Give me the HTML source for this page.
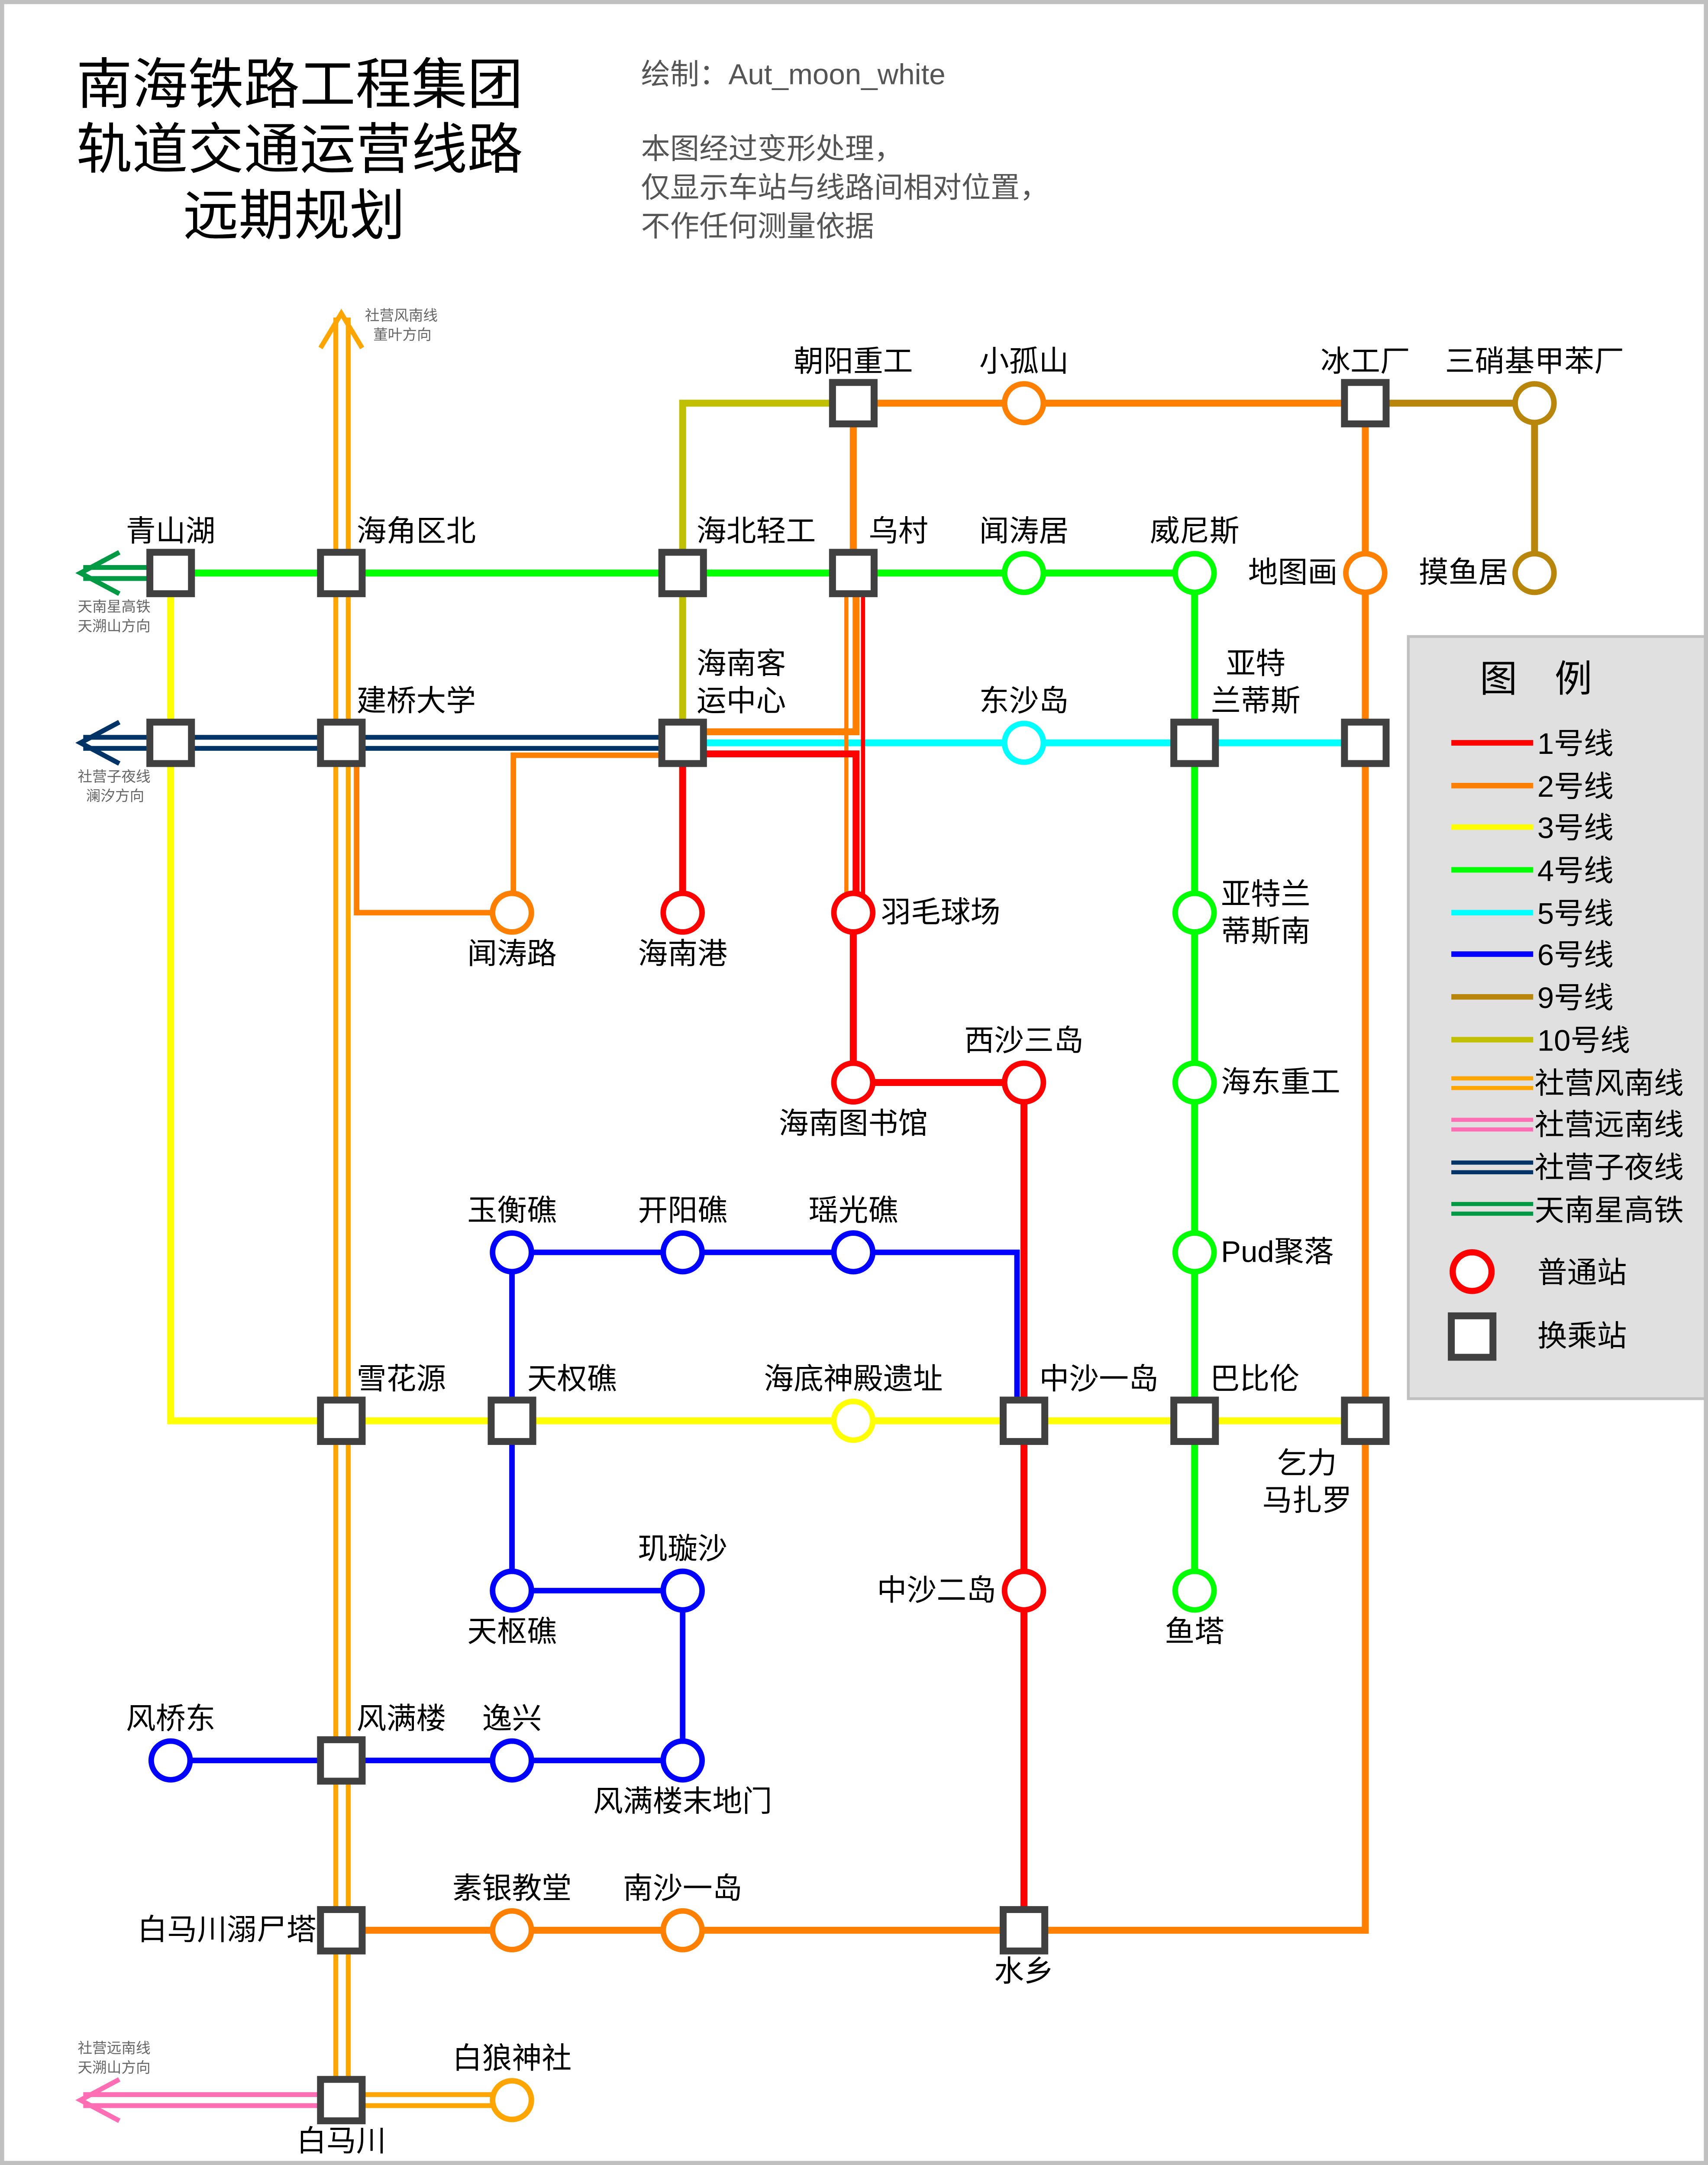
<!DOCTYPE html>
<html><head><meta charset="utf-8"><style>
html,body{margin:0;padding:0;background:#fff;width:100%;height:100%;overflow:hidden}
svg{display:block;position:fixed;left:0;top:0;width:100vw;height:100vh}
text{font-family:"Liberation Sans","Noto Sans CJK SC",sans-serif;fill:#000}
</style></head><body>
<svg viewBox="0 0 1231 1568" preserveAspectRatio="none" xmlns="http://www.w3.org/2000/svg">
<rect x="1.5" y="1.5" width="1228" height="1565" fill="#fff" stroke="#c0c0c0" stroke-width="3"/>
<g font-size="40">
<text x="216" y="75" text-anchor="middle" textLength="322" lengthAdjust="spacingAndGlyphs">南海铁路工程集团</text>
<text x="216" y="122" text-anchor="middle" textLength="322" lengthAdjust="spacingAndGlyphs">轨道交通运营线路</text>
<text x="212" y="170" text-anchor="middle" textLength="160" lengthAdjust="spacingAndGlyphs">远期规划</text>
</g>
<g font-size="21" style="fill:#555">
<text x="462" y="61" style="fill:#555">绘制：Aut_moon_white</text>
<text x="462" y="115" style="fill:#555">本图经过变形处理，</text>
<text x="462" y="143" style="fill:#555">仅显示车站与线路间相对位置，</text>
<text x="462" y="171" style="fill:#555">不作任何测量依据</text>
</g>
<g fill="none" stroke-linejoin="miter">
<polyline points="123,415 123,1029 984,1029" stroke="#ffff00" stroke-width="5"/>
<polyline points="123,415 861,415 861,1152" stroke="#00ff00" stroke-width="5"/>
<line x1="492" y1="538" x2="984" y2="538" stroke="#00ffff" stroke-width="5"/>
<polyline points="492,538 492,292 615,292" stroke="#c0c000" stroke-width="5"/>
<polyline points="984,292 1106,292 1106,415" stroke="#b8860b" stroke-width="5"/>
<polyline points="615,415 615,292 984,292 984,1398 246,1398" stroke="#ff8000" stroke-width="5"/>
<polyline points="617,415 617,530 492,530" stroke="#ff8000" stroke-width="5"/>
<line x1="610" y1="420" x2="610" y2="650" stroke="#ff8000" stroke-width="3"/>
<polyline points="492,547 370,547 370,661" stroke="#ff8000" stroke-width="4"/>
<polyline points="257,538 257,661 369,661" stroke="#ff8000" stroke-width="4"/>
<line x1="492" y1="538" x2="492" y2="661" stroke="#ff0000" stroke-width="5"/>
<polyline points="492,546 617,546 617,661" stroke="#ff0000" stroke-width="5"/>
<line x1="622" y1="420" x2="622" y2="650" stroke="#ff0000" stroke-width="3"/>
<polyline points="615,661 615,784 738,784 738,1398" stroke="#ff0000" stroke-width="5"/>
<polyline points="369,907 733,907 733,1029" stroke="#0000ff" stroke-width="4"/>
<polyline points="369,907 369,1152 492,1152 492,1275 123,1275" stroke="#0000ff" stroke-width="4"/>
<g stroke="#009944" stroke-width="3.5">
<line x1="60" y1="411" x2="123" y2="411"/><line x1="60" y1="419" x2="123" y2="419"/>
<polyline points="86,400 58,415 86,430"/>
</g>
<g stroke="#003366" stroke-width="3.5">
<line x1="60" y1="534" x2="492" y2="534"/><line x1="60" y1="542" x2="492" y2="542"/>
<polyline points="86,523 58,538 86,553"/>
</g>
<g stroke="#ff6eb4" stroke-width="3.5">
<line x1="60" y1="1517" x2="246" y2="1517"/><line x1="60" y1="1525" x2="246" y2="1525"/>
<polyline points="86,1506 58,1521 86,1536"/>
</g>
<g stroke="#ffa500" stroke-width="3.5">
<line x1="242" y1="230" x2="242" y2="1521"/><line x1="251" y1="230" x2="251" y2="1521"/>
<line x1="246" y1="1517" x2="369" y2="1517"/><line x1="246" y1="1525" x2="369" y2="1525"/>
<polyline points="231,252 246,227 261,252"/>
</g>
</g>
<g font-size="10.5" style="fill:#666">
<text x="263" y="232" style="fill:#666">社营风南线</text>
<text x="269" y="246" style="fill:#666">董叶方向</text>
<text x="56" y="443" style="fill:#666">天南星高铁</text>
<text x="56" y="457" style="fill:#666">天溯山方向</text>
<text x="56" y="566" style="fill:#666">社营子夜线</text>
<text x="62" y="580" style="fill:#666">澜汐方向</text>
<text x="56" y="1487" style="fill:#666">社营远南线</text>
<text x="56" y="1501" style="fill:#666">天溯山方向</text>
</g>
<g fill="#fff" stroke-width="4">
<circle cx="738" cy="292" r="14" stroke="#ff8000"/>
<circle cx="984" cy="415" r="14" stroke="#ff8000"/>
<circle cx="369" cy="661" r="14" stroke="#ff8000"/>
<circle cx="369" cy="1398" r="14" stroke="#ff8000"/>
<circle cx="492" cy="1398" r="14" stroke="#ff8000"/>
<circle cx="369" cy="1521" r="14" stroke="#ffa500"/>
<circle cx="1106" cy="292" r="14" stroke="#b8860b"/>
<circle cx="1106" cy="415" r="14" stroke="#b8860b"/>
<circle cx="738" cy="415" r="14" stroke="#00ff00"/>
<circle cx="861" cy="415" r="14" stroke="#00ff00"/>
<circle cx="861" cy="661" r="14" stroke="#00ff00"/>
<circle cx="861" cy="784" r="14" stroke="#00ff00"/>
<circle cx="861" cy="907" r="14" stroke="#00ff00"/>
<circle cx="861" cy="1152" r="14" stroke="#00ff00"/>
<circle cx="738" cy="538" r="14" stroke="#00ffff"/>
<circle cx="492" cy="661" r="14" stroke="#ff0000"/>
<circle cx="615" cy="661" r="14" stroke="#ff0000"/>
<circle cx="615" cy="784" r="14" stroke="#ff0000"/>
<circle cx="738" cy="784" r="14" stroke="#ff0000"/>
<circle cx="738" cy="1152" r="14" stroke="#ff0000"/>
<circle cx="615" cy="1029" r="14" stroke="#ffff00"/>
<circle cx="369" cy="907" r="14" stroke="#0000ff"/>
<circle cx="492" cy="907" r="14" stroke="#0000ff"/>
<circle cx="615" cy="907" r="14" stroke="#0000ff"/>
<circle cx="369" cy="1152" r="14" stroke="#0000ff"/>
<circle cx="492" cy="1152" r="14" stroke="#0000ff"/>
<circle cx="123" cy="1275" r="14" stroke="#0000ff"/>
<circle cx="369" cy="1275" r="14" stroke="#0000ff"/>
<circle cx="492" cy="1275" r="14" stroke="#0000ff"/>
</g>
<g fill="#fff" stroke="#404040" stroke-width="5">
<rect x="600" y="277" width="30" height="30"/>
<rect x="969" y="277" width="30" height="30"/>
<rect x="108" y="400" width="30" height="30"/>
<rect x="231" y="400" width="30" height="30"/>
<rect x="477" y="400" width="30" height="30"/>
<rect x="600" y="400" width="30" height="30"/>
<rect x="108" y="523" width="30" height="30"/>
<rect x="231" y="523" width="30" height="30"/>
<rect x="477" y="523" width="30" height="30"/>
<rect x="846" y="523" width="30" height="30"/>
<rect x="969" y="523" width="30" height="30"/>
<rect x="231" y="1014" width="30" height="30"/>
<rect x="354" y="1014" width="30" height="30"/>
<rect x="723" y="1014" width="30" height="30"/>
<rect x="846" y="1014" width="30" height="30"/>
<rect x="969" y="1014" width="30" height="30"/>
<rect x="231" y="1260" width="30" height="30"/>
<rect x="231" y="1383" width="30" height="30"/>
<rect x="723" y="1383" width="30" height="30"/>
<rect x="231" y="1506" width="30" height="30"/>
</g>
<g font-size="21.5">
<text x="615" y="269" text-anchor="middle">朝阳重工</text>
<text x="738" y="269" text-anchor="middle">小孤山</text>
<text x="984" y="269" text-anchor="middle">冰工厂</text>
<text x="1106" y="269" text-anchor="middle">三硝基甲苯厂</text>
<text x="123" y="392" text-anchor="middle">青山湖</text>
<text x="257" y="392">海角区北</text>
<text x="502" y="392">海北轻工</text>
<text x="626" y="392">乌村</text>
<text x="738" y="392" text-anchor="middle">闻涛居</text>
<text x="861" y="392" text-anchor="middle">威尼斯</text>
<text x="964" y="422" text-anchor="end">地图画</text>
<text x="1087" y="422" text-anchor="end">摸鱼居</text>
<text x="502" y="488">海南客</text>
<text x="502" y="515">运中心</text>
<text x="257" y="515">建桥大学</text>
<text x="738" y="515" text-anchor="middle">东沙岛</text>
<text x="905" y="488" text-anchor="middle">亚特</text>
<text x="905" y="515" text-anchor="middle">兰蒂斯</text>
<text x="369" y="698" text-anchor="middle">闻涛路</text>
<text x="492" y="698" text-anchor="middle">海南港</text>
<text x="635" y="668">羽毛球场</text>
<text x="880" y="655">亚特兰</text>
<text x="880" y="682">蒂斯南</text>
<text x="738" y="761" text-anchor="middle">西沙三岛</text>
<text x="615" y="821" text-anchor="middle">海南图书馆</text>
<text x="880" y="791">海东重工</text>
<text x="369" y="884" text-anchor="middle">玉衡礁</text>
<text x="492" y="884" text-anchor="middle">开阳礁</text>
<text x="615" y="884" text-anchor="middle">瑶光礁</text>
<text x="880" y="914">Pud聚落</text>
<text x="257" y="1006">雪花源</text>
<text x="380" y="1006">天权礁</text>
<text x="615" y="1006" text-anchor="middle">海底神殿遗址</text>
<text x="749" y="1006">中沙一岛</text>
<text x="872" y="1006">巴比伦</text>
<text x="942" y="1067" text-anchor="middle">乞力</text>
<text x="942" y="1094" text-anchor="middle">马扎罗</text>
<text x="492" y="1129" text-anchor="middle">玑璇沙</text>
<text x="369" y="1189" text-anchor="middle">天枢礁</text>
<text x="718" y="1159" text-anchor="end">中沙二岛</text>
<text x="861" y="1189" text-anchor="middle">鱼塔</text>
<text x="123" y="1252" text-anchor="middle">风桥东</text>
<text x="257" y="1252">风满楼</text>
<text x="369" y="1252" text-anchor="middle">逸兴</text>
<text x="492" y="1312" text-anchor="middle">风满楼末地门</text>
<text x="369" y="1375" text-anchor="middle">素银教堂</text>
<text x="492" y="1375" text-anchor="middle">南沙一岛</text>
<text x="228" y="1405" text-anchor="end">白马川溺尸塔</text>
<text x="738" y="1435" text-anchor="middle">水乡</text>
<text x="369" y="1498" text-anchor="middle">白狼神社</text>
<text x="246" y="1558" text-anchor="middle">白马川</text>
</g>
<rect x="1015" y="461" width="214" height="552" fill="#e0e0e0" stroke="#c0c0c0" stroke-width="2"/>
<text x="1107" y="501" font-size="27" text-anchor="middle">图　例</text>
<g stroke-width="4">
<line x1="1046" y1="538" x2="1105" y2="538" stroke="#ff0000"/>
<line x1="1046" y1="569" x2="1105" y2="569" stroke="#ff8000"/>
<line x1="1046" y1="599" x2="1105" y2="599" stroke="#ffff00"/>
<line x1="1046" y1="630" x2="1105" y2="630" stroke="#00ff00"/>
<line x1="1046" y1="661" x2="1105" y2="661" stroke="#00ffff"/>
<line x1="1046" y1="691" x2="1105" y2="691" stroke="#0000ff"/>
<line x1="1046" y1="722" x2="1105" y2="722" stroke="#b8860b"/>
<line x1="1046" y1="753" x2="1105" y2="753" stroke="#c0c000"/>
</g>
<g stroke-width="3">
<line x1="1046" y1="781" x2="1105" y2="781" stroke="#ffa500"/><line x1="1046" y1="788" x2="1105" y2="788" stroke="#ffa500"/>
<line x1="1046" y1="811" x2="1105" y2="811" stroke="#ff6eb4"/><line x1="1046" y1="818" x2="1105" y2="818" stroke="#ff6eb4"/>
<line x1="1046" y1="842" x2="1105" y2="842" stroke="#003366"/><line x1="1046" y1="849" x2="1105" y2="849" stroke="#003366"/>
<line x1="1046" y1="872" x2="1105" y2="872" stroke="#009944"/><line x1="1046" y1="879" x2="1105" y2="879" stroke="#009944"/>
</g>
<g font-size="21.5">
<text x="1108" y="546">1号线</text>
<text x="1108" y="577">2号线</text>
<text x="1108" y="607">3号线</text>
<text x="1108" y="638">4号线</text>
<text x="1108" y="669">5号线</text>
<text x="1108" y="699">6号线</text>
<text x="1108" y="730">9号线</text>
<text x="1108" y="761">10号线</text>
<text x="1106" y="792">社营风南线</text>
<text x="1106" y="822">社营远南线</text>
<text x="1106" y="853">社营子夜线</text>
<text x="1106" y="884">天南星高铁</text>
<text x="1108" y="929">普通站</text>
<text x="1108" y="975">换乘站</text>
</g>
<circle cx="1061" cy="921" r="14" fill="#fff" stroke="#ff0000" stroke-width="4.5"/>
<rect x="1046" y="953" width="30" height="30" fill="#fff" stroke="#404040" stroke-width="5"/>
</svg>
</body></html>
